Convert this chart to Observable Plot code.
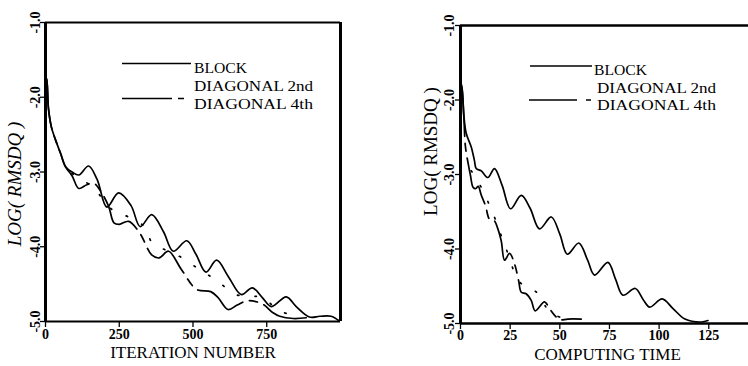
<!DOCTYPE html>
<html>
<head>
<meta charset="utf-8">
<script src="https://cdn.jsdelivr.net/npm/d3@7"></script>
<script src="https://cdn.jsdelivr.net/npm/@observablehq/plot@0.6"></script>
<style>
  html, body { margin: 0; padding: 0; background: #fff; }
  #wrap { position: relative; width: 748px; height: 366px; overflow: hidden; background: #fff; }
  #wrap > .panel { position: absolute; top: 0; }
  #legend { position: absolute; left: 0; top: 0; pointer-events: none; }
</style>
</head>
<body>
<div id="wrap"></div>
<script>
const FONT = '"Liberation Serif", "DejaVu Serif", serif';

// ---- tick values / labels ----
const yTicks = [-5, -4, -3, -2, -1];
const leftXTicks = [0, 250, 500, 750];
const rightXTicks = [0, 25, 50, 75, 100, 125];
const leftXLabel = "ITERATION NUMBER";
const rightXLabel = "COMPUTING TIME";
const yLabel = "LOG( RMSDQ )";
const seriesNames = ["BLOCK", "DIAGONAL 2nd", "DIAGONAL 4th"];

// ---- left panel: log(rmsdq) vs iteration number ----
const iterBlock = [[0,-1.8],[4,-1.75],[10,-2.15],[20,-2.4],[34,-2.57],[51,-2.75],[68,-2.93],[90,-3.0],[113,-3.04],[146,-2.92],[175,-3.1],[208,-3.47],[248,-3.28],[290,-3.45],[321,-3.73],[360,-3.57],[400,-3.8],[433,-4.06],[479,-3.92],[510,-4.1],[544,-4.34],[580,-4.18],[620,-4.4],[664,-4.64],[701,-4.55],[735,-4.68],[766,-4.8],[816,-4.67],[850,-4.8],[895,-4.94],[930,-4.93],[968,-4.93],[995,-4.99]];
const iterDiag2 = [[90,-3.02],[120,-3.1],[160,-3.2],[225,-3.5],[280,-3.6],[341,-3.75],[360,-3.94],[410,-4.05],[464,-4.15],[520,-4.3],[580,-4.45],[645,-4.64],[700,-4.66],[737,-4.68],[790,-4.85],[850,-4.93]];
const iterDiag4 = [[0,-1.8],[4,-1.75],[10,-2.15],[20,-2.4],[34,-2.57],[51,-2.75],[68,-2.93],[90,-3.05],[113,-3.22],[140,-3.17],[163,-3.15],[186,-3.25],[214,-3.46],[232,-3.68],[250,-3.7],[282,-3.66],[320,-3.82],[360,-4.11],[385,-4.15],[417,-4.06],[460,-4.3],[512,-4.57],[560,-4.6],[585,-4.68],[619,-4.84],[650,-4.78],[687,-4.72],[737,-4.77],[770,-4.88],[794,-4.93],[840,-4.96],[884,-4.95]];

// ---- right panel: log(rmsdq) vs computing time ----
const timeBlock = [[0,-1.75],[0.8,-1.85],[1.7,-2.21],[2.9,-2.45],[5.4,-2.63],[7,-2.81],[7.9,-2.92],[10.4,-2.95],[13.8,-3.04],[17.1,-2.92],[21,-3.15],[25.2,-3.46],[30.6,-3.28],[35,-3.45],[39.8,-3.73],[45.7,-3.57],[50,-3.8],[53.8,-4.07],[59.6,-3.92],[64,-4.15],[67.5,-4.35],[74.2,-4.18],[78,-4.4],[81.8,-4.62],[88,-4.53],[92,-4.68],[95.3,-4.78],[101.5,-4.67],[107,-4.8],[113,-4.94],[121.3,-4.98],[124.6,-4.96]];
const timeDiag2 = [[5.4,-2.95],[9,-3.1],[16,-3.5],[23,-4.0],[30,-4.45],[38.7,-4.59],[45,-4.85],[52,-4.93]];
const timeDiag4 = [[0,-1.75],[0.8,-1.85],[1.7,-2.23],[2.5,-2.63],[4.2,-2.9],[5,-3.01],[6.3,-3.17],[7.6,-3.19],[8.9,-3.16],[10.5,-3.28],[12.6,-3.42],[14.6,-3.6],[17,-3.62],[18.7,-3.72],[20.5,-3.89],[22.2,-4.15],[24.7,-4.06],[27.2,-4.2],[29.3,-4.43],[30.6,-4.58],[33,-4.6],[35.6,-4.69],[37.6,-4.83],[42.3,-4.71],[44.8,-4.8],[47.4,-4.89],[49.9,-4.95],[54,-4.94],[60.8,-4.94]];

function curves(block, d2, d4) {
  const common = {x: d => d[0], y: d => d[1], stroke: "black", curve: "catmull-rom"};
  return [
    Plot.line(block, {...common, strokeWidth: 1.7}),
    Plot.line(d4, {...common, strokeWidth: 1.7, strokeDasharray: "55,7,8,7"}),
    Plot.line(d2, {...common, strokeWidth: 1.7, strokeDasharray: "1.5,16"})
  ];
}

const left = Plot.plot({
  width: 374, height: 366,
  marginLeft: 45, marginRight: 34, marginTop: 22, marginBottom: 45,
  style: {fontFamily: FONT, fontSize: "14px", color: "black", background: "white", overflow: "visible"},
  x: {domain: [0, 1000]},
  y: {domain: [-5, -1]},
  marks: [
    Plot.axisX(leftXTicks, {tickSize: 6, tickPadding: 2, tickFormat: d => String(d), label: null, fontWeight: "bold", strokeWidth: 1.3}),
    Plot.axisY(yTicks, {tickSize: 5, tickFormat: () => "", label: null, strokeWidth: 1.3}),
    Plot.text(yTicks, {y: d => d, text: d => d.toFixed(1), frameAnchor: "left", textAnchor: "middle", dx: -10, rotate: -90, fontWeight: "bold", fontSize: 14}),
    Plot.text([yLabel], {text: d => d, frameAnchor: "left", textAnchor: "middle", dx: -31, dy: 12, rotate: -90, fontSize: 19, fontStyle: "italic"}),
    Plot.text([leftXLabel], {text: d => d, frameAnchor: "bottom", dy: 36, fontSize: 17}),
    Plot.ruleX([0], {strokeWidth: 3}),
    Plot.ruleX([1000], {strokeWidth: 3}),
    Plot.ruleY([-1], {strokeWidth: 2}),
    Plot.ruleY([-5], {strokeWidth: 2}),
    ...curves(iterBlock, iterDiag2, iterDiag4)
  ]
});

const right = Plot.plot({
  width: 374, height: 366,
  marginLeft: 86, marginRight: 0, marginTop: 25, marginBottom: 43,
  style: {fontFamily: FONT, fontSize: "14px", color: "black", background: "white", overflow: "visible"},
  x: {domain: [0, 145]},
  y: {domain: [-5, -1]},
  marks: [
    Plot.axisX(rightXTicks, {tickSize: 6, tickPadding: 1, tickFormat: d => String(d), label: null, fontWeight: "bold", strokeWidth: 1.3}),
    Plot.axisY(yTicks, {tickSize: 5, tickFormat: () => "", label: null, strokeWidth: 1.3}),
    Plot.text(yTicks, {y: d => d, text: d => d.toFixed(1), frameAnchor: "left", textAnchor: "middle", dx: -11, rotate: -90, fontWeight: "bold", fontSize: 14}),
    Plot.text([yLabel], {text: d => d, frameAnchor: "left", textAnchor: "middle", dx: -30, dy: -23, rotate: -90, fontSize: 19}),
    Plot.text([rightXLabel], {text: d => d, frameAnchor: "bottom", dx: 3, dy: 36, fontSize: 17}),
    Plot.ruleX([0], {strokeWidth: 3}),
    Plot.ruleY([-1], {strokeWidth: 2.5}),
    Plot.ruleY([-5], {strokeWidth: 2.5}),
    ...curves(timeBlock, timeDiag2, timeDiag4)
  ]
});

const wrap = document.getElementById("wrap");
left.classList.add("panel"); left.style.left = "0px";
right.classList.add("panel"); right.style.left = "374px";
wrap.appendChild(left);
wrap.appendChild(right);

// ---- legends (one per panel) ----
const ns = "http://www.w3.org/2000/svg";
const lg = document.createElementNS(ns, "svg");
lg.setAttribute("id", "legend");
lg.setAttribute("width", 748);
lg.setAttribute("height", 366);
lg.style.fontFamily = FONT;
lg.style.fontSize = "15.5px";
function seg(x1, x2, y, w) {
  const l = document.createElementNS(ns, "line");
  l.setAttribute("x1", x1); l.setAttribute("x2", x2);
  l.setAttribute("y1", y); l.setAttribute("y2", y);
  l.setAttribute("stroke", "black"); l.setAttribute("stroke-width", w || 1.5);
  lg.appendChild(l);
}
function txt(x, y, s) {
  const t = document.createElementNS(ns, "text");
  t.setAttribute("x", x); t.setAttribute("y", y);
  t.setAttribute("textLength", s.length > 6 ? 119 : 53);
  t.setAttribute("lengthAdjust", "spacingAndGlyphs");
  t.textContent = s;
  lg.appendChild(t);
}
// left legend
seg(122, 191, 63.5);
txt(194, 73, seriesNames[0]);
txt(194, 91, seriesNames[1]);
seg(122, 172, 98.5); seg(178, 184, 98.5);
txt(194, 108.5, seriesNames[2]);
// right legend
seg(530, 592, 66);
txt(594, 75, seriesNames[0]);
txt(597, 92.5, seriesNames[1]);
seg(529, 577, 100); seg(586, 591, 100);
txt(597, 110, seriesNames[2]);
wrap.appendChild(lg);
</script>
</body>
</html>
